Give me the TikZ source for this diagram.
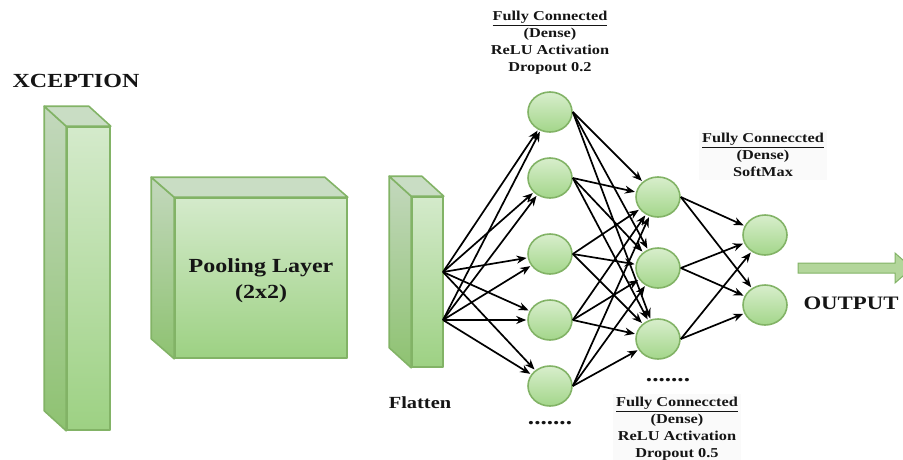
\documentclass[tikz,border=0pt]{standalone}
\usepackage{fontspec}
\setmainfont[FakeStretch=1.2]{Liberation Serif}
\usetikzlibrary{arrows.meta,calc,shapes.geometric}
\definecolor{gborder}{HTML}{82B366}
\definecolor{gtop}{HTML}{D4EACB}
\definecolor{gbot}{HTML}{9DD183}
\definecolor{stop}{HTML}{C3D8BD}
\definecolor{sbot}{HTML}{8EC271}
\definecolor{ttop}{HTML}{C9DDC4}
\definecolor{ctop}{HTML}{D8EECC}
\definecolor{cbot}{HTML}{A3D68A}
\definecolor{arrfill}{HTML}{B3D69B}
\definecolor{txt}{HTML}{151515}
\begin{document}
\begin{tikzpicture}[x=1pt,y=-1pt,
  face/.style={draw=gborder, line width=1.6pt, line join=round},
  front/.style={face, top color=gtop, bottom color=gbot, rectangle, inner sep=0pt},
  sideface/.style={face, top color=stop, bottom color=sbot},
  topface/.style={face, fill=ttop},
  neuron/.style={ellipse, draw=gborder, line width=1.6pt, top color=ctop, bottom color=cbot, minimum width=44pt, minimum height=40pt, inner sep=0pt},
  conn/.style={line width=1.7pt, shorten >=1pt, -{Stealth[length=10pt,width=8pt]}},
  lbl/.style={font=\bfseries\fontsize{13.6}{17}\selectfont, align=center, text=txt, inner sep=3pt},
  big/.style={font=\bfseries\fontsize{20}{26}\selectfont, align=center, text=txt},
  dots/.style={font=\bfseries\fontsize{21}{21}\selectfont, text=txt, anchor=base, inner sep=0pt}
]
\useasboundingbox (0,0) rectangle (903,459);

% XCEPTION block
\node[front, minimum width=43pt, minimum height=303pt] (xc) at (88.5,278.5) {};
\draw[sideface] (xc.north west) -- ++(-22,-20) -- ($(xc.south west)+(-22,-20)$) -- (xc.south west) -- cycle;
\draw[topface] (xc.north west) -- ++(-22,-20) -- ($(xc.north east)+(-22,-20)$) -- (xc.north east) -- cycle;
\node[big, anchor=base] (xct) at (76,87) {XCEPTION};

% Pooling block
\node[front, minimum width=172pt, minimum height=160pt] (pl) at (261,278) {};
\draw[sideface] (pl.north west) -- ++(-23,-20) -- ($(pl.south west)+(-23,-20)$) -- (pl.south west) -- cycle;
\draw[topface] (pl.north west) -- ++(-23,-20) -- ($(pl.north east)+(-23,-20)$) -- (pl.north east) -- cycle;
\node[big] (plt) at (261,281) {Pooling Layer\\(2x2)};

% Flatten block
\node[front, minimum width=31pt, minimum height=170pt] (fl) at (427.5,282) {};
\draw[sideface] (fl.north west) -- ++(-22,-20) -- ($(fl.south west)+(-22,-20)$) -- (fl.south west) -- cycle;
\draw[topface] (fl.north west) -- ++(-22,-20) -- ($(fl.north east)+(-22,-20)$) -- (fl.north east) -- cycle;
\node[font=\bfseries\fontsize{17}{17}\selectfont, text=txt, anchor=base] (flt) at (420,408) {Flatten};
\coordinate (fa) at (443,272);
\coordinate (fb) at (443,320);

% neurons
\node[neuron] (a1) at (550,112) {};
\node[neuron] (a2) at (550,178) {};
\node[neuron] (a3) at (550,254) {};
\node[neuron] (a4) at (550,320) {};
\node[neuron] (a5) at (550,386) {};
\node[neuron] (b1) at (658,197) {};
\node[neuron] (b2) at (658,268) {};
\node[neuron] (b3) at (658,339) {};
\node[neuron] (c1) at (765,235) {};
\node[neuron] (c2) at (765,305) {};

% connections
\foreach \s in {fa,fb}
  \foreach \t in {a1,a2,a3,a4,a5}
    \draw[conn] (\s) -- (\t);
\foreach \s in {a1,a2,a3,a4,a5}
  \foreach \t in {b1,b2,b3}
    \draw[conn] (\s.east) -- (\t);
\foreach \s in {b1,b2,b3}
  \foreach \t in {c1,c2}
    \draw[conn] (\s.east) -- (\t);

% dots
\node[dots] (d1) at (550,424) {.......};
\node[dots] (d2) at (668,381) {.......};

% labels
\node[lbl] (l1) at (550,43) {\underline{Fully Connected}\\(Dense)\\ReLU Activation\\Dropout 0.2};
\node[lbl, fill=black!2] (l2) at (763,155) {\underline{Fully Conneccted}\\(Dense)\\SoftMax};
\node[lbl, fill=black!2] (l3) at (677,429) {\underline{Fully Conneccted}\\(Dense)\\ReLU Activation\\Dropout 0.5};

% output arrow
\begin{scope}
\clip (0,0) rectangle (903,459);
\draw[draw=gborder, line width=1pt, fill=arrfill, line join=miter]
  (798,263) -- (895,263) -- (895,253) -- (912,268) -- (895,283) -- (895,273) -- (798,273) -- cycle;
\end{scope}
\node[font=\bfseries\fontsize{19}{19}\selectfont, text=txt, anchor=base] (out) at (851,309) {OUTPUT};
\end{tikzpicture}
\end{document}
